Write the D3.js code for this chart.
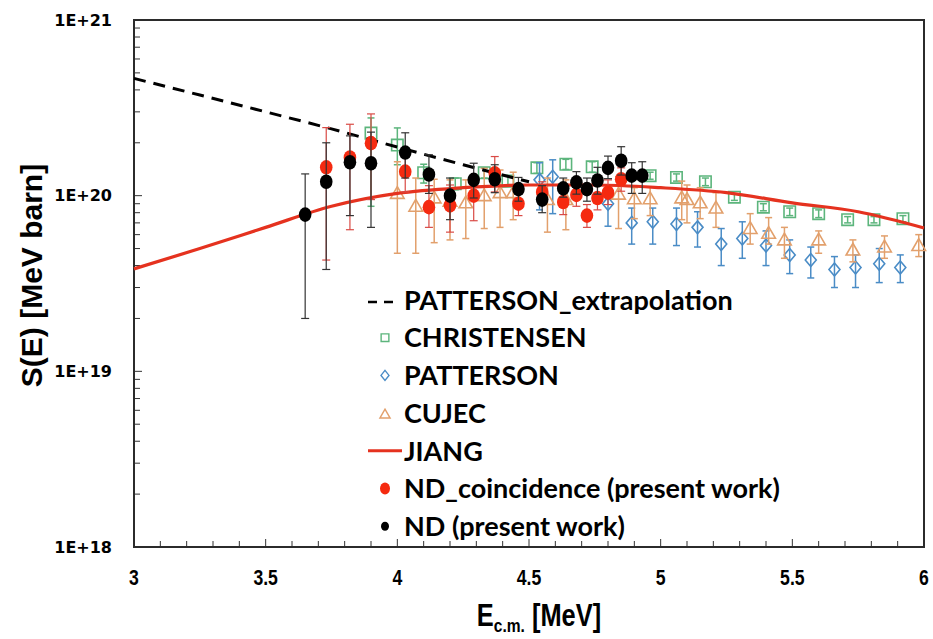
<!DOCTYPE html>
<html>
<head>
<meta charset="utf-8">
<script src="https://cdnjs.cloudflare.com/ajax/libs/d3/7.8.5/d3.min.js"></script>
<style>
  body { margin: 0; background: #fff; }
  svg { display: block; }
</style>
</head>
<body>
<div class="chart"></div>
<script>
// values in units of 1e20 MeV barn
var UNIT = 1e20;

var extrapE = [3, 3.25, 3.5, 3.75, 4, 4.25, 4.5];
var extrapS = [4.65, 3.74, 3.0, 2.40, 1.89, 1.50, 1.20];

var jiangE = [3, 3.25, 3.5, 3.75, 4, 4.25, 4.5, 4.75, 5, 5.25, 5.5, 5.75, 6];
var jiangS = [0.383, 0.50, 0.66, 0.87, 1.03, 1.11, 1.15, 1.15, 1.11, 1.04, 0.91, 0.81, 0.655];

var chrE  = [3.90, 4.00, 4.10, 4.22, 4.33, 4.42, 4.53, 4.64, 4.74, 4.96, 5.06, 5.17, 5.28, 5.39, 5.49, 5.60, 5.71, 5.81, 5.92];
var chrS  = [2.27, 1.94, 1.35, 1.17, 1.35, 1.21, 1.44, 1.51, 1.46, 1.30, 1.27, 1.20, 0.98, 0.86, 0.81, 0.79, 0.73, 0.73, 0.74];
var chrHi = [2.77, 2.43, 1.51, 1.26, 1.44, 1.29, 1.54, 1.61, 1.56, 1.36, 1.33, 1.26, 1.02, 0.90, 0.85, 0.83, 0.76, 0.76, 0.77];
var chrLo = [0.87, 1.50, 1.18, 1.08, 1.26, 1.13, 1.34, 1.41, 1.36, 1.24, 1.21, 1.14, 0.94, 0.82, 0.77, 0.75, 0.70, 0.70, 0.71];

var patE  = [4.54, 4.59, 4.80, 4.89, 4.97, 5.06, 5.14, 5.23, 5.31, 5.40, 5.49, 5.57, 5.66, 5.74, 5.83, 5.91];
var patS  = [1.23, 1.28, 0.90, 0.70, 0.71, 0.69, 0.66, 0.53, 0.57, 0.52, 0.46, 0.43, 0.38, 0.39, 0.41, 0.39];
var patHi = [1.54, 1.60, 1.11, 0.85, 0.85, 0.85, 0.81, 0.65, 0.71, 0.63, 0.56, 0.51, 0.45, 0.46, 0.50, 0.46];
var patLo = [0.83, 0.79, 0.67, 0.53, 0.53, 0.52, 0.51, 0.40, 0.44, 0.40, 0.36, 0.34, 0.30, 0.30, 0.32, 0.32];

var cujE  = [4.00, 4.07, 4.14, 4.20, 4.26, 4.33, 4.39, 4.44, 4.57, 4.64, 4.84, 4.90, 4.96, 5.08, 5.10, 5.15, 5.21, 5.34, 5.41, 5.47, 5.60, 5.73, 5.85, 5.98];
var cujS  = [1.03, 0.87, 0.97, 0.93, 0.91, 1.00, 1.04, 1.04, 0.95, 0.95, 1.02, 0.96, 0.96, 0.97, 0.95, 0.91, 0.85, 0.65, 0.61, 0.56, 0.56, 0.49, 0.51, 0.52];
var cujHi = [1.56, 1.26, 1.24, 1.23, 1.23, 1.43, 1.40, 1.36, 1.26, 1.23, 1.28, 1.11, 1.12, 1.21, 1.15, 1.11, 1.04, 0.79, 0.75, 0.66, 0.63, 0.56, 0.59, 0.60];
var cujLo = [0.47, 0.47, 0.54, 0.56, 0.57, 0.65, 0.66, 0.73, 0.62, 0.64, 0.65, 0.74, 0.77, 0.73, 0.70, 0.74, 0.66, 0.53, 0.53, 0.44, 0.47, 0.42, 0.44, 0.45];

var coinE  = [3.73, 3.82, 3.90, 4.03, 4.12, 4.20, 4.29, 4.37, 4.46, 4.55, 4.63, 4.68, 4.72, 4.76, 4.80, 4.85];
var coinS  = [1.45, 1.65, 1.99, 1.37, 0.86, 0.88, 1.00, 1.34, 0.90, 1.05, 0.92, 1.01, 0.77, 0.97, 1.04, 1.24];
var coinHi = [2.44, 2.55, 2.92, 1.77, 1.14, 1.15, 1.29, 1.67, 1.05, 1.20, 1.08, 1.17, 0.89, 1.14, 1.23, 1.44];
var coinLo = [0.43, 0.64, 0.95, 1.05, 0.66, 0.62, 0.72, 1.05, 0.77, 0.92, 0.78, 0.87, 0.66, 0.83, 0.89, 1.06];

var ndE  = [3.65, 3.73, 3.82, 3.90, 4.03, 4.12, 4.20, 4.29, 4.37, 4.46, 4.55, 4.63, 4.68, 4.72, 4.76, 4.80, 4.85, 4.89, 4.93];
var ndS  = [0.78, 1.20, 1.55, 1.53, 1.76, 1.32, 1.00, 1.23, 1.24, 1.09, 0.95, 1.10, 1.19, 1.09, 1.22, 1.44, 1.58, 1.30, 1.30];
var ndHi = [1.33, 2.00, 2.19, 2.30, 2.28, 1.71, 1.26, 1.53, 1.50, 1.27, 1.14, 1.26, 1.37, 1.26, 1.45, 1.68, 1.90, 1.54, 1.56];
var ndLo = [0.20, 0.38, 0.77, 0.66, 1.26, 1.03, 0.73, 0.97, 1.04, 0.93, 0.80, 0.98, 1.02, 0.93, 1.02, 1.25, 1.31, 1.03, 1.03];

var xTicks = [3, 3.5, 4, 4.5, 5, 5.5, 6];
var yTicks = [1e18, 1e19, 1e20, 1e21];

var legendNames = ["PATTERSON_extrapolation", "CHRISTENSEN", "PATTERSON", "CUJEC", "JIANG",
                   "ND_coincidence (present work)", "ND (present work)"];

var cGreen = "#5cb57c", cBlue = "#4a8cc6", cOrange = "#e2a06c", cRed = "#f52a10", cLine = "#e5321f";
var narrow = "'Liberation Sans', Arial, sans-serif";

var margin = {top: 20, right: 9, bottom: 92, left: 134},
    width = 933 - margin.left - margin.right,
    height = 639 - margin.top - margin.bottom;

var x = d3.scaleLinear().domain([3, 6]).range([0, width]);
var y = d3.scaleLog().domain([1e18, 1e21]).range([height, 0]);

var svg = d3.select(".chart").append("svg")
    .attr("width", 933)
    .attr("height", 639);

var g = svg.append("g")
    .attr("transform", "translate(" + margin.left + "," + margin.top + ")");

function zip(E, S, hi, lo) {
  return E.map(function(e, i) {
    return {e: e, s: S[i] * UNIT, hi: hi ? hi[i] * UNIT : null, lo: lo ? lo[i] * UNIT : null};
  });
}

var chr = zip(chrE, chrS, chrHi, chrLo),
    pat = zip(patE, patS, patHi, patLo),
    cuj = zip(cujE, cujS, cujHi, cujLo),
    coin = zip(coinE, coinS, coinHi, coinLo),
    nd = zip(ndE, ndS, ndHi, ndLo),
    jiang = zip(jiangE, jiangS),
    extrap = zip(extrapE, extrapS);

// ticks (inside)
var minorX = d3.range(30, 61).map(function(v) { return v / 10; });
g.selectAll(".xt").data(minorX).enter().append("line")
  .attr("x1", function(d) { return x(d); }).attr("x2", function(d) { return x(d); })
  .attr("y1", height).attr("y2", function(d) { return height - (Math.abs(d * 2 - Math.round(d * 2)) < 1e-6 ? 8 : 6); })
  .attr("stroke", "#333").attr("stroke-width", 1);

var minorY = [];
[18, 19, 20].forEach(function(p) {
  for (var k = 1; k < 10; k++) minorY.push(k * Math.pow(10, p));
});
minorY.push(1e21);
g.selectAll(".yt").data(minorY).enter().append("line")
  .attr("x1", 0).attr("x2", function(d) { return Math.abs(Math.log10(d) - Math.round(Math.log10(d))) < 1e-6 ? 8 : 6; })
  .attr("y1", function(d) { return y(d); }).attr("y2", function(d) { return y(d); })
  .attr("stroke", "#333").attr("stroke-width", 1);

// frame
g.append("rect").attr("x", 0).attr("y", 0).attr("width", width).attr("height", height)
  .attr("fill", "none").attr("stroke", "#2b2b2b").attr("stroke-width", 2);

// tick labels (condensed look)
g.selectAll(".xl").data(xTicks).enter().append("text")
  .attr("transform", function(d) { return "translate(" + x(d) + "," + (height + 38) + ") scale(0.8,1)"; })
  .attr("text-anchor", "middle")
  .style("font-family", narrow)
  .style("font-weight", "bold").style("font-size", "22px")
  .text(function(d) { return d; });

g.selectAll(".yl").data(yTicks).enter().append("text")
  .attr("x", -22)
  .attr("y", function(d) { return y(d); })
  .attr("dy", "0.36em")
  .attr("text-anchor", "end")
  .style("font-family", "'DejaVu Sans', sans-serif")
  .style("font-weight", "bold").style("font-size", "16px")
  .text(function(d) { return "1E+" + Math.round(Math.log10(d)); });

// axis titles
svg.append("text")
  .attr("transform", "translate(42," + (margin.top + height / 2 - 8) + ") rotate(-90)")
  .attr("text-anchor", "middle")
  .style("font-family", "'Liberation Sans', Arial, sans-serif")
  .style("font-weight", "bold").style("font-size", "30px")
  .text("S(E) [MeV barn]");

var xt = svg.append("text")
  .attr("transform", "translate(" + (margin.left + width / 2 + 10) + ",626) scale(0.82,1)")
  .attr("text-anchor", "middle")
  .style("font-family", narrow)
  .style("font-weight", "bold").style("font-size", "31px");
xt.append("tspan").text("E");
xt.append("tspan").attr("dy", 6).style("font-size", "19px").text("c.m.");
xt.append("tspan").attr("dy", -6).text(" [MeV]");

// error bar helper
function errorBars(data, color, width, cap) {
  var eb = g.append("g").attr("stroke", color).attr("stroke-width", width);
  eb.selectAll(".v").data(data).enter().append("line")
    .attr("x1", function(d) { return x(d.e); }).attr("x2", function(d) { return x(d.e); })
    .attr("y1", function(d) { return y(d.hi); }).attr("y2", function(d) { return y(d.lo); });
  eb.selectAll(".t").data(data).enter().append("line")
    .attr("x1", function(d) { return x(d.e) - cap; }).attr("x2", function(d) { return x(d.e) + cap; })
    .attr("y1", function(d) { return y(d.hi); }).attr("y2", function(d) { return y(d.hi); });
  eb.selectAll(".b").data(data).enter().append("line")
    .attr("x1", function(d) { return x(d.e) - cap; }).attr("x2", function(d) { return x(d.e) + cap; })
    .attr("y1", function(d) { return y(d.lo); }).attr("y2", function(d) { return y(d.lo); });
}

var sqr = d3.symbol().type(d3.symbolSquare).size(130);
var tri = d3.symbol().type(d3.symbolTriangle).size(80);
function diamondPath(w, h) {
  return "M0," + (-h) + "L" + w + ",0L0," + h + "L" + (-w) + ",0Z";
}

// CHRISTENSEN
errorBars(chr, cGreen, 1.5, 3.5);
g.selectAll(".chr").data(chr).enter().append("path")
  .attr("transform", function(d) { return "translate(" + x(d.e) + "," + y(d.s) + ")"; })
  .attr("d", sqr).attr("fill", "none").attr("stroke", cGreen).attr("stroke-width", 1.6);

// PATTERSON
errorBars(pat, cBlue, 1.5, 3.5);
g.selectAll(".pat").data(pat).enter().append("path")
  .attr("transform", function(d) { return "translate(" + x(d.e) + "," + y(d.s) + ")"; })
  .attr("d", diamondPath(5.5, 6.5)).attr("fill", "none").attr("stroke", cBlue).attr("stroke-width", 1.6);

// CUJEC
errorBars(cuj, cOrange, 1.5, 3.5);
g.selectAll(".cuj").data(cuj).enter().append("path")
  .attr("transform", function(d) { return "translate(" + x(d.e) + "," + (y(d.s) + 1) + ")"; })
  .attr("d", tri).attr("fill", "none").attr("stroke", cOrange).attr("stroke-width", 1.6);

// lines
var line = d3.line()
  .x(function(d) { return x(d.e); })
  .y(function(d) { return y(d.s); })
  .curve(d3.curveMonotoneX);

g.append("path").datum(jiang).attr("d", line)
  .attr("fill", "none").attr("stroke", cLine).attr("stroke-width", 3.2);

g.append("path").datum(extrap).attr("d", line)
  .attr("fill", "none").attr("stroke", "#000").attr("stroke-width", 3).attr("stroke-dasharray", "12,8");

// ND_coincidence
errorBars(coin, "#d94a45", 1.2, 4);
g.selectAll(".coin").data(coin).enter().append("ellipse")
  .attr("cx", function(d) { return x(d.e); }).attr("cy", function(d) { return y(d.s); })
  .attr("rx", 6.3).attr("ry", 7.3).attr("fill", cRed);

// ND
errorBars(nd, "#333", 1.2, 4);
g.selectAll(".nd").data(nd).enter().append("ellipse")
  .attr("cx", function(d) { return x(d.e); }).attr("cy", function(d) { return y(d.s); })
  .attr("rx", 6.3).attr("ry", 7.3).attr("fill", "#000");

// legend
var leg = svg.append("g").attr("transform", "translate(385,300)");
var rowH = 37.7;
var rows = leg.selectAll(".row").data(legendNames).enter().append("g")
  .attr("transform", function(d, i) { return "translate(0," + (i * rowH) + ")"; });
rows.append("text")
  .attr("x", 19).attr("y", 0).attr("dy", "0.36em")
  .style("font-family", "Lato, 'Open Sans', sans-serif")
  .style("font-weight", "bold").style("font-size", "27px")
  .text(function(d) { return d; });

rows.each(function(d, i) {
  var r = d3.select(this);
  if (i === 0) {
    r.append("line").attr("x1", -17).attr("x2", 15).attr("y1", 2).attr("y2", 2)
      .attr("stroke", "#000").attr("stroke-width", 2.5).attr("stroke-dasharray", "9,7");
  } else if (i === 1) {
    r.append("path").attr("d", d3.symbol().type(d3.symbolSquare).size(60))
      .attr("fill", "none").attr("stroke", cGreen).attr("stroke-width", 1.4);
  } else if (i === 2) {
    r.append("path").attr("d", diamondPath(4, 5))
      .attr("fill", "none").attr("stroke", cBlue).attr("stroke-width", 1.4);
  } else if (i === 3) {
    r.append("path").attr("transform", "translate(0,2)").attr("d", d3.symbol().type(d3.symbolTriangle).size(45))
      .attr("fill", "none").attr("stroke", cOrange).attr("stroke-width", 1.4);
  } else if (i === 4) {
    r.append("line").attr("x1", -17).attr("x2", 17).attr("y1", 0).attr("y2", 0)
      .attr("stroke", cLine).attr("stroke-width", 3);
  } else if (i === 5) {
    r.append("ellipse").attr("rx", 5).attr("ry", 6).attr("fill", cRed);
  } else {
    r.append("ellipse").attr("rx", 4).attr("ry", 4.5).attr("fill", "#000");
  }
});
</script>
</body>
</html>
